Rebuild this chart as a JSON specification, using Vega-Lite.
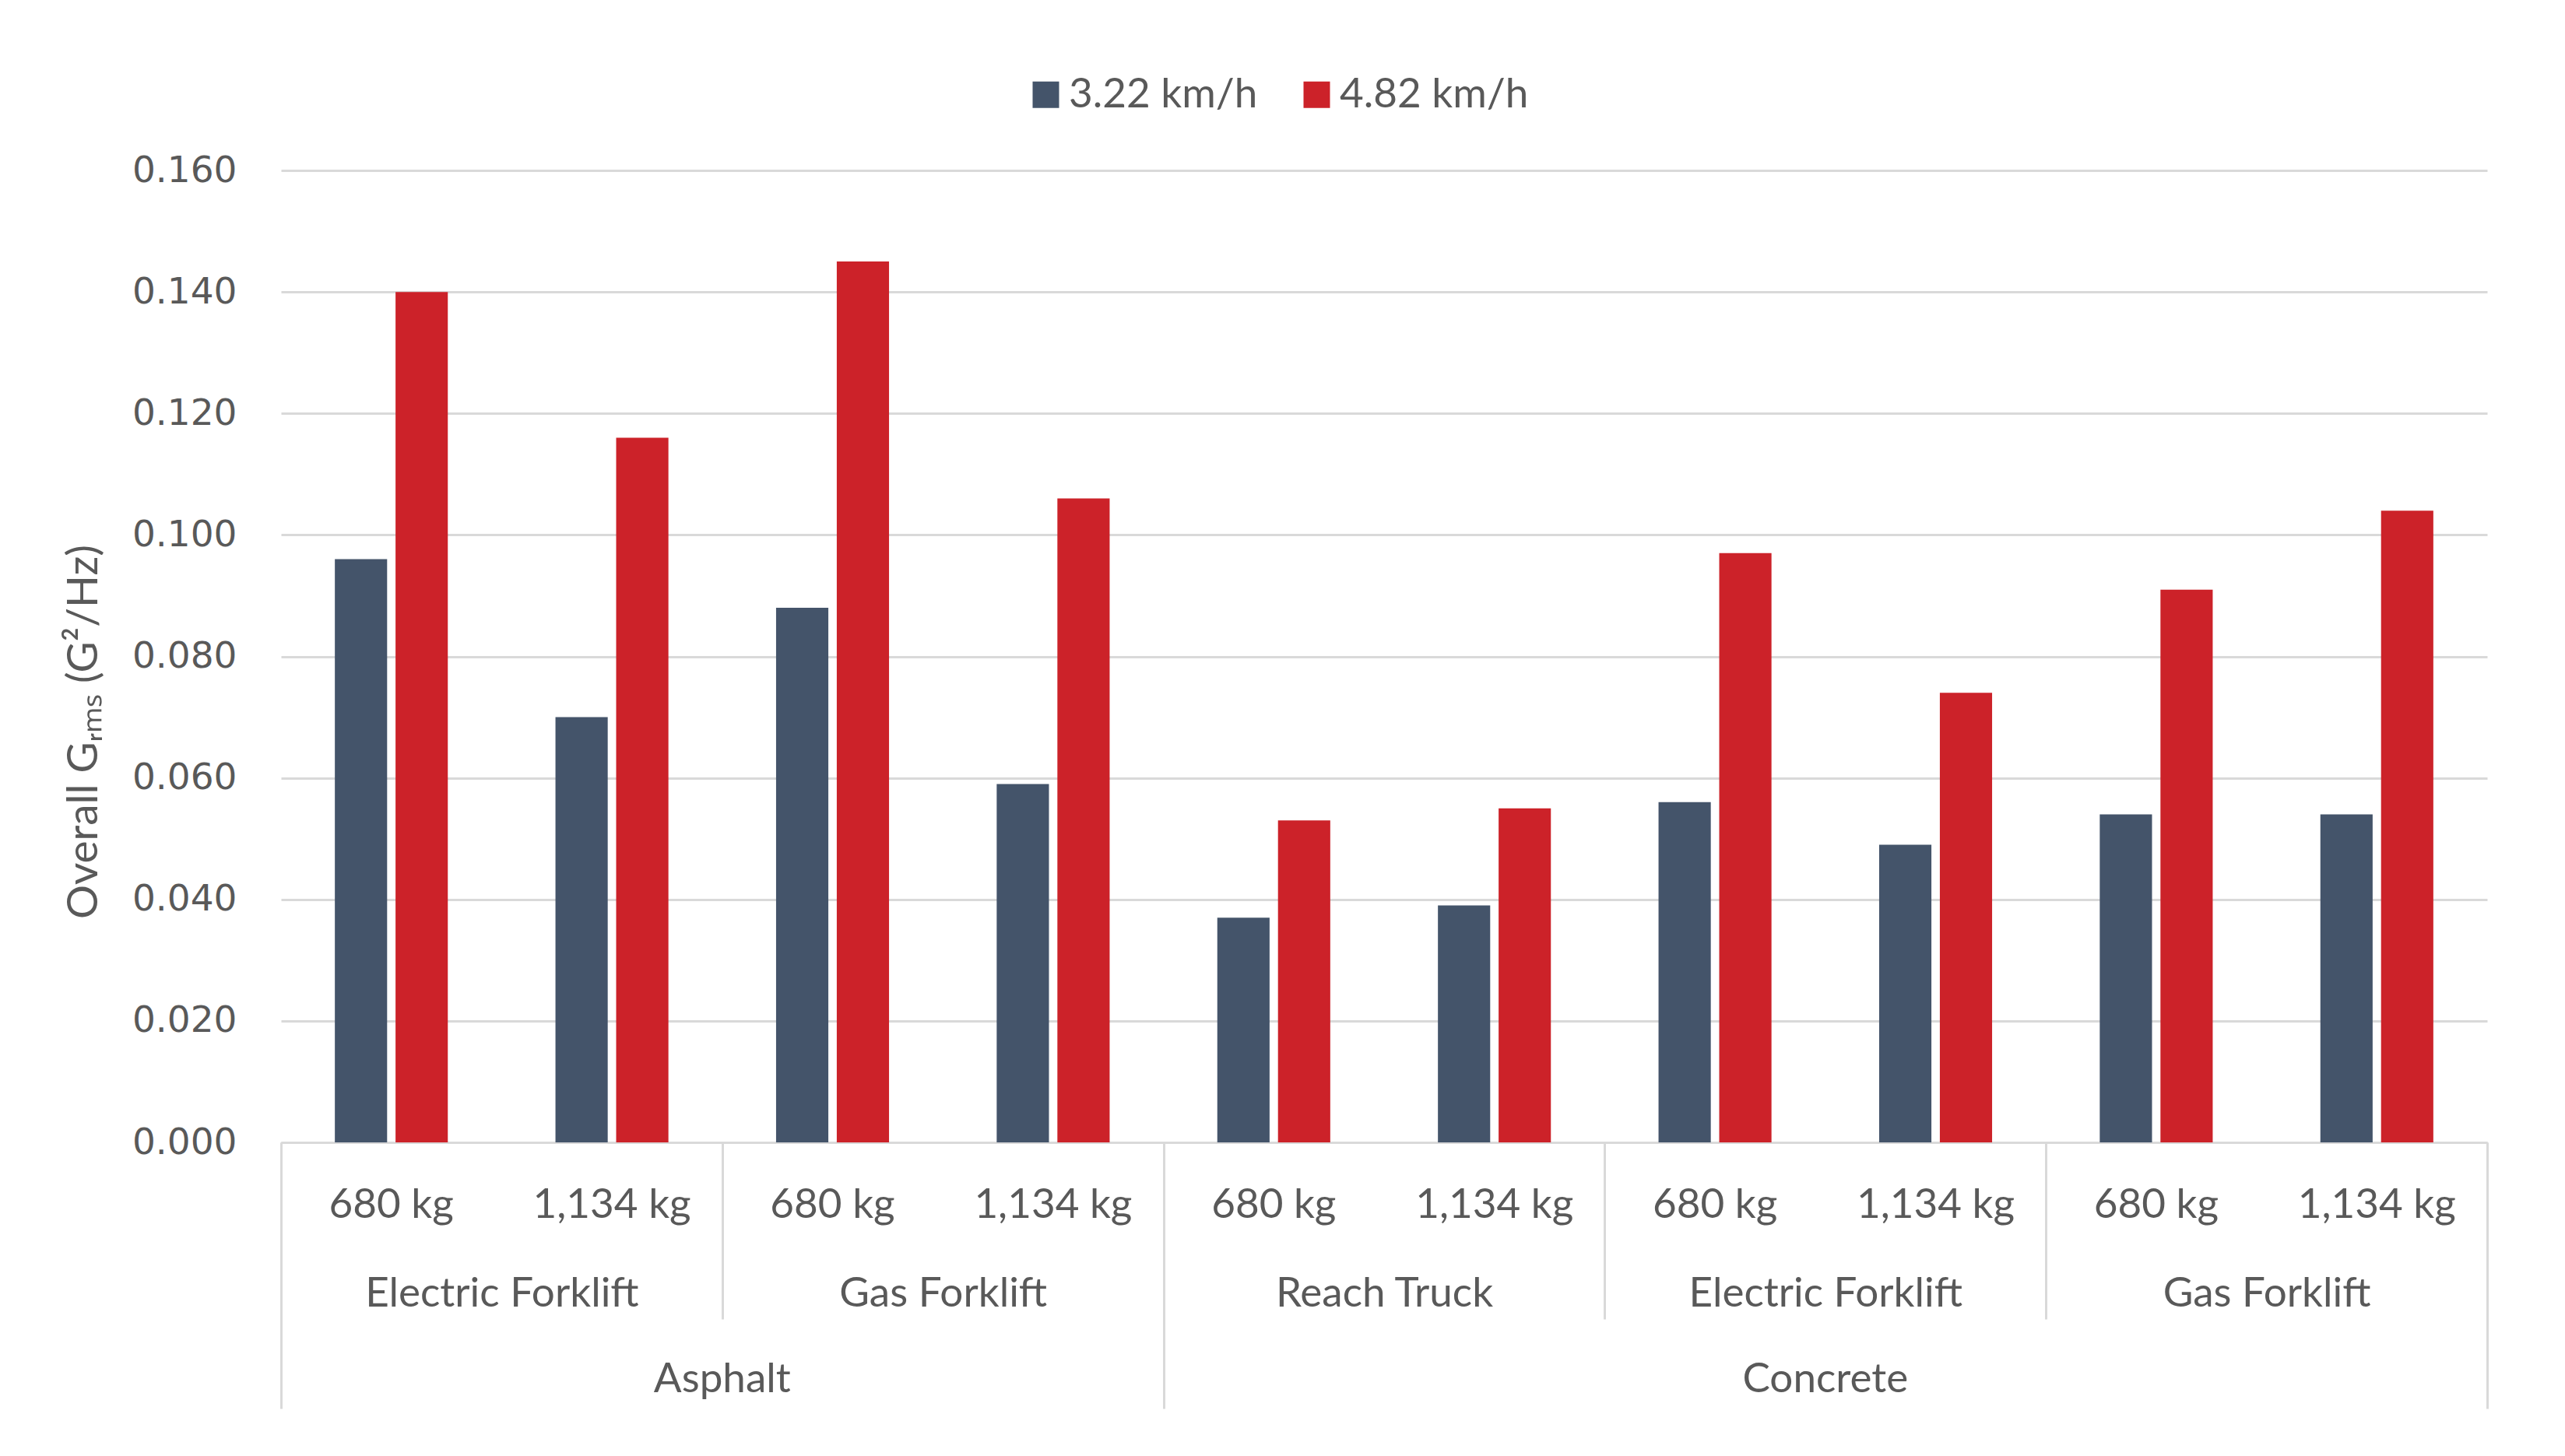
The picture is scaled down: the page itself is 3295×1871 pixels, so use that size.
{
  "$schema": "https://vega.github.io/schema/vega-lite/v6.json",
  "width": 2834,
  "height": 1249,
  "autosize": {"type": "none"},
  "padding": {"left": 361, "top": 219, "right": 100, "bottom": 403},
  "background": "white",
  "config": {"view": {"stroke": null}, "font": "Lato"},
  "data": {
    "values": [
      {"surface": "Asphalt", "vehicle": "Electric Forklift", "weight": "680 kg", "group": "Asphalt|Electric Forklift", "cat": "Asphalt|Electric Forklift|680 kg", "speed": "3.22 km/h", "value": 0.096},
      {"surface": "Asphalt", "vehicle": "Electric Forklift", "weight": "680 kg", "group": "Asphalt|Electric Forklift", "cat": "Asphalt|Electric Forklift|680 kg", "speed": "4.82 km/h", "value": 0.140},
      {"surface": "Asphalt", "vehicle": "Electric Forklift", "weight": "1,134 kg", "group": "Asphalt|Electric Forklift", "cat": "Asphalt|Electric Forklift|1,134 kg", "speed": "3.22 km/h", "value": 0.070},
      {"surface": "Asphalt", "vehicle": "Electric Forklift", "weight": "1,134 kg", "group": "Asphalt|Electric Forklift", "cat": "Asphalt|Electric Forklift|1,134 kg", "speed": "4.82 km/h", "value": 0.116},
      {"surface": "Asphalt", "vehicle": "Gas Forklift", "weight": "680 kg", "group": "Asphalt|Gas Forklift", "cat": "Asphalt|Gas Forklift|680 kg", "speed": "3.22 km/h", "value": 0.088},
      {"surface": "Asphalt", "vehicle": "Gas Forklift", "weight": "680 kg", "group": "Asphalt|Gas Forklift", "cat": "Asphalt|Gas Forklift|680 kg", "speed": "4.82 km/h", "value": 0.145},
      {"surface": "Asphalt", "vehicle": "Gas Forklift", "weight": "1,134 kg", "group": "Asphalt|Gas Forklift", "cat": "Asphalt|Gas Forklift|1,134 kg", "speed": "3.22 km/h", "value": 0.059},
      {"surface": "Asphalt", "vehicle": "Gas Forklift", "weight": "1,134 kg", "group": "Asphalt|Gas Forklift", "cat": "Asphalt|Gas Forklift|1,134 kg", "speed": "4.82 km/h", "value": 0.106},
      {"surface": "Concrete", "vehicle": "Reach Truck", "weight": "680 kg", "group": "Concrete|Reach Truck", "cat": "Concrete|Reach Truck|680 kg", "speed": "3.22 km/h", "value": 0.037},
      {"surface": "Concrete", "vehicle": "Reach Truck", "weight": "680 kg", "group": "Concrete|Reach Truck", "cat": "Concrete|Reach Truck|680 kg", "speed": "4.82 km/h", "value": 0.053},
      {"surface": "Concrete", "vehicle": "Reach Truck", "weight": "1,134 kg", "group": "Concrete|Reach Truck", "cat": "Concrete|Reach Truck|1,134 kg", "speed": "3.22 km/h", "value": 0.039},
      {"surface": "Concrete", "vehicle": "Reach Truck", "weight": "1,134 kg", "group": "Concrete|Reach Truck", "cat": "Concrete|Reach Truck|1,134 kg", "speed": "4.82 km/h", "value": 0.055},
      {"surface": "Concrete", "vehicle": "Electric Forklift", "weight": "680 kg", "group": "Concrete|Electric Forklift", "cat": "Concrete|Electric Forklift|680 kg", "speed": "3.22 km/h", "value": 0.056},
      {"surface": "Concrete", "vehicle": "Electric Forklift", "weight": "680 kg", "group": "Concrete|Electric Forklift", "cat": "Concrete|Electric Forklift|680 kg", "speed": "4.82 km/h", "value": 0.097},
      {"surface": "Concrete", "vehicle": "Electric Forklift", "weight": "1,134 kg", "group": "Concrete|Electric Forklift", "cat": "Concrete|Electric Forklift|1,134 kg", "speed": "3.22 km/h", "value": 0.049},
      {"surface": "Concrete", "vehicle": "Electric Forklift", "weight": "1,134 kg", "group": "Concrete|Electric Forklift", "cat": "Concrete|Electric Forklift|1,134 kg", "speed": "4.82 km/h", "value": 0.074},
      {"surface": "Concrete", "vehicle": "Gas Forklift", "weight": "680 kg", "group": "Concrete|Gas Forklift", "cat": "Concrete|Gas Forklift|680 kg", "speed": "3.22 km/h", "value": 0.054},
      {"surface": "Concrete", "vehicle": "Gas Forklift", "weight": "680 kg", "group": "Concrete|Gas Forklift", "cat": "Concrete|Gas Forklift|680 kg", "speed": "4.82 km/h", "value": 0.091},
      {"surface": "Concrete", "vehicle": "Gas Forklift", "weight": "1,134 kg", "group": "Concrete|Gas Forklift", "cat": "Concrete|Gas Forklift|1,134 kg", "speed": "3.22 km/h", "value": 0.054},
      {"surface": "Concrete", "vehicle": "Gas Forklift", "weight": "1,134 kg", "group": "Concrete|Gas Forklift", "cat": "Concrete|Gas Forklift|1,134 kg", "speed": "4.82 km/h", "value": 0.104}
    ]
  },
  "resolve": {"scale": {"x": "independent"}, "axis": {"x": "independent"}},
  "layer": [
    {
      "mark": {"type": "bar"},
      "encoding": {
        "x": {
          "field": "cat", "type": "nominal", "sort": null,
          "scale": {"paddingInner": 0.488, "paddingOuter": 0.244},
          "axis": {"orient": "bottom", "title": null, "labelExpr": "split(datum.label, '|')[2]", "ticks": false, "domain": true, "domainColor": "#d9d9d9", "domainWidth": 3, "labelAngle": 0, "labelFont": "Lato", "labelFontSize": 53, "labelColor": "#595959", "labelPadding": 80, "labelBaseline": "middle", "labelLimit": 0, "labelOverlap": false}
        },
        "xOffset": {"field": "speed", "type": "nominal", "scale": {"paddingInner": 0.139}},
        "y": {
          "field": "value", "type": "quantitative",
          "scale": {"domain": [0, 0.16], "nice": false},
          "axis": {"title": "Overall Gᵣₘₛ (G²/Hz)", "titleY": 721, "values": [0, 0.02, 0.04, 0.06, 0.08, 0.1, 0.12, 0.14, 0.16], "format": ".3f", "grid": true, "gridColor": "#d9d9d9", "gridWidth": 3, "domain": false, "ticks": false, "labelFont": "DejaVu Sans", "labelFontSize": 47, "labelColor": "#595959", "labelPadding": 57, "titleFont": "Lato", "titleFontSize": 55, "titleFontWeight": "normal", "titleColor": "#595959", "titlePadding": 33}
        },
        "color": {
          "field": "speed", "type": "nominal",
          "scale": {"domain": ["3.22 km/h", "4.82 km/h"], "range": ["#44546a", "#cc2229"]},
          "legend": {"title": null, "orient": "none", "legendX": 956, "legendY": -124, "direction": "horizontal", "symbolType": "square", "symbolSize": 1156, "symbolStrokeWidth": 0, "labelFont": "Lato", "labelFontSize": 53, "labelColor": "#595959", "labelOffset": 3, "columnPadding": 49, "labelLimit": 0}
        }
      }
    },
    {
      "mark": {"type": "bar", "opacity": 0},
      "encoding": {
        "x": {
          "field": "group", "type": "nominal", "sort": null,
          "scale": {"type": "band", "paddingInner": 0, "paddingOuter": 0},
          "axis": {"orient": "bottom", "title": null, "domain": false, "ticks": true, "tickBand": "extent", "tickSize": 227, "tickColor": "#d9d9d9", "tickWidth": 3, "labelExpr": "split(datum.label, '|')[1]", "labelAngle": 0, "labelFont": "Lato", "labelFontSize": 53, "labelColor": "#595959", "labelPadding": -33, "labelBaseline": "middle", "labelLimit": 0, "labelOverlap": false}
        },
        "y": {"field": "value", "type": "quantitative"}
      }
    },
    {
      "mark": {"type": "bar", "opacity": 0},
      "encoding": {
        "x": {
          "field": "cat", "type": "nominal", "sort": null,
          "scale": {"type": "band", "paddingInner": 0, "paddingOuter": 0},
          "axis": {"orient": "bottom", "title": null, "values": ["Asphalt|Gas Forklift|680 kg", "Concrete|Electric Forklift|1,134 kg"], "labelOffset": -141.7, "ticks": false, "domain": false, "labelExpr": "split(datum.label, '|')[0]", "labelAngle": 0, "labelFont": "Lato", "labelFontSize": 53, "labelColor": "#595959", "labelPadding": 304, "labelBaseline": "middle", "labelLimit": 0, "labelOverlap": false}
        },
        "y": {"field": "value", "type": "quantitative"}
      }
    },
    {
      "mark": {"type": "rule", "opacity": 0},
      "encoding": {
        "x": {
          "datum": 0, "type": "quantitative",
          "scale": {"domain": [0, 10], "nice": false, "zero": false},
          "axis": {"orient": "bottom", "title": null, "values": [0, 4, 10], "labels": false, "domain": false, "ticks": true, "tickSize": 342, "tickColor": "#d9d9d9", "tickWidth": 3, "grid": false}
        }
      }
    }
  ]
}
